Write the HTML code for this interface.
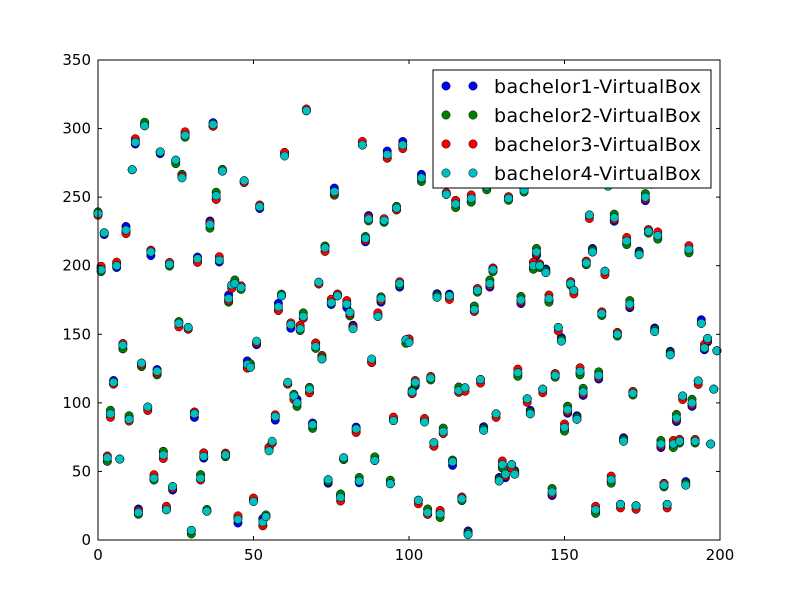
<!DOCTYPE html>
<html><head><meta charset="utf-8"><style>
body{margin:0;background:#fff;}
svg text{font-family:"DejaVu Sans","Liberation Sans",sans-serif;}
</style></head><body>
<svg id="chart" width="800" height="600" xmlns="http://www.w3.org/2000/svg">
<rect x="0" y="0" width="800" height="600" fill="#fff"/>
<g id="marks"></g>
<rect x="98" y="60" width="622" height="480" fill="none" stroke="#000" stroke-width="1"/>
<g id="axes"></g>
<g id="legend"></g>
</svg>
<script>
const seriesNames = ["bachelor1-VirtualBox","bachelor2-VirtualBox","bachelor3-VirtualBox","bachelor4-VirtualBox"];
const seriesColors = ["#0000ff","#008000","#ff0000","#00bfbf"];
const xTicks = [0,50,100,150,200];
const yTicks = [0,50,100,150,200,250,300,350];
const baseValues = [238,197,224,60,92,115,200,59,142,226,88,270,290,20,129,302,97,210,45,123,283,62,22,201,39,277,158,264,295,155,7,92,205,45,61,21,230,303,251,204,269,62,176,186,187,15,184,262,128,126,28,145,243,13,17,65,72,90,170,178,280,115,157,105,100,154,163,313,110,84,141,188,132,213,44,173,254,178,31,60,172,166,154,81,43,288,220,234,132,58,163,176,233,281,41,87,242,187,288,146,144,108,115,29,264,86,20,118,71,177,19,79,252,178,57,245,109,30,111,4,249,168,182,117,80,258,187,197,92,43,55,48,249,55,48,122,175,255,103,92,200,210,200,110,195,176,35,120,155,145,82,95,187,182,88,123,108,202,237,210,22,120,165,196,258,44,235,150,26,72,218,172,107,25,208,262,250,225,262,152,222,70,40,26,135,70,89,72,105,40,212,100,72,116,158,140,147,70,110,138];
const blueDelta = "34213423154325342134253412354231452354123452314253412534215342135423145234125342135423152341253421534213542315423415243512435214352143521435214352143521435214352143521435214352143521435214352143521";
const greenDelta = "42315243125342153421354231452314253412534213542315423145231452341253412354231452314253421534215342315423145234153241523415234152341523415234152341523415234152341523415234152341523415234152341523";
const redDelta = "25341253412354231452315423145234125342153421354213524135241352413524135241352413524135241352413524135241352413524135241352413524135241352413524135241352413524135241352413524135241352413524135241352";
const deltas = [blueDelta, greenDelta, redDelta, ""];

const X0=98, X1=720, Y0=540, Y1=60;
function xScale(v){return X0+(v-0)/(200-0)*(X1-X0);}
function yScale(v){return Y0-(v-0)/(350-0)*(Y0-Y1);}
const NS="http://www.w3.org/2000/svg";
const marks=document.getElementById('marks');
const axes=document.getElementById('axes');
const legend=document.getElementById('legend');

seriesNames.forEach((name,s)=>{
  const g=document.createElementNS(NS,'g');
  
  
  baseValues.forEach((v,i)=>{
    const d=deltas[s].length>i?(parseInt(deltas[s][i])-3)*1.3:0;
    const c=document.createElementNS(NS,'circle');
    c.setAttribute('cx',xScale(i));
    c.setAttribute('cy',yScale(v+d));
    c.setAttribute('r',4.2);
    c.setAttribute('fill',seriesColors[s]);
    c.setAttribute('stroke','#000');
    c.setAttribute('stroke-width','0.5');
    
    
    g.appendChild(c);
  });
  marks.appendChild(g);
});

xTicks.forEach(t=>{
  const x=xScale(t);
  const l1=document.createElementNS(NS,'line');
  l1.setAttribute('x1',x);l1.setAttribute('x2',x);l1.setAttribute('y1',Y0);l1.setAttribute('y2',Y0-4);l1.setAttribute('stroke','#000');
  
  
  axes.appendChild(l1);
  const l2=document.createElementNS(NS,'line');
  l2.setAttribute('x1',x);l2.setAttribute('x2',x);l2.setAttribute('y1',Y1);l2.setAttribute('y2',Y1+4);l2.setAttribute('stroke','#000');
  
  
  axes.appendChild(l2);
  const tx=document.createElementNS(NS,'text');
  tx.setAttribute('x',x);tx.setAttribute('y',560);tx.setAttribute('text-anchor','middle');tx.setAttribute('font-size','15');
  tx.textContent=t;
  
  
  axes.appendChild(tx);
});
yTicks.forEach(t=>{
  const y=yScale(t);
  const l1=document.createElementNS(NS,'line');
  l1.setAttribute('x1',X0);l1.setAttribute('x2',X0+4);l1.setAttribute('y1',y);l1.setAttribute('y2',y);l1.setAttribute('stroke','#000');
  
  
  axes.appendChild(l1);
  const l2=document.createElementNS(NS,'line');
  l2.setAttribute('x1',X1);l2.setAttribute('x2',X1-4);l2.setAttribute('y1',y);l2.setAttribute('y2',y);l2.setAttribute('stroke','#000');
  
  
  axes.appendChild(l2);
  const tx=document.createElementNS(NS,'text');
  tx.setAttribute('x',91);tx.setAttribute('y',y+5);tx.setAttribute('text-anchor','end');tx.setAttribute('font-size','15');
  tx.textContent=t;
  
  
  axes.appendChild(tx);
});

const box=document.createElementNS(NS,'rect');
box.setAttribute('x',433);box.setAttribute('y',70);box.setAttribute('width',278);box.setAttribute('height',118);
box.setAttribute('fill','#fff');box.setAttribute('stroke','#000');


legend.appendChild(box);
seriesNames.forEach((name,s)=>{
  const y=86+s*29;
  const g=document.createElementNS(NS,'g');
  
  
  [446,473].forEach(cx=>{
    const c=document.createElementNS(NS,'circle');
    c.setAttribute('cx',cx);c.setAttribute('cy',y);c.setAttribute('r',4.2);
    c.setAttribute('fill',seriesColors[s]);c.setAttribute('stroke','#000');c.setAttribute('stroke-width','0.5');
    g.appendChild(c);
  });
  const t=document.createElementNS(NS,'text');
  t.setAttribute('x',494);t.setAttribute('y',y+7);t.setAttribute('font-size','19');
  t.setAttribute('textLength','207');
  t.textContent=name;
  g.appendChild(t);
  legend.appendChild(g);
});
</script>
</body></html>
